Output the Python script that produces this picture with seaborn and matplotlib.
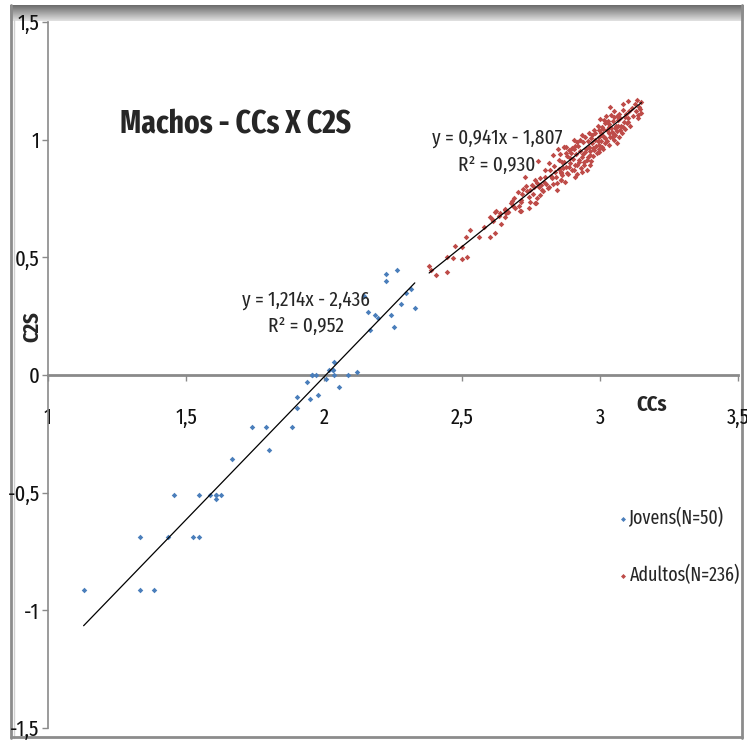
import numpy as np
import pandas as pd
import matplotlib
matplotlib.use("Agg")
import matplotlib.pyplot as plt
import seaborn as sns
from matplotlib import font_manager
from matplotlib.font_manager import FontProperties

# ---- data: Jovens (young) ----
jovens_ccs = [1.129, 1.334, 1.384, 1.334, 1.435, 1.525, 1.546, 1.456, 1.547, 1.587,
              1.607, 1.610, 1.626, 1.666, 1.738, 1.791, 1.801, 1.883, 1.902, 1.902,
              1.937, 1.948, 1.979, 2.056, 2.226, 2.226, 2.264, 2.145, 2.158, 2.184,
              2.197, 2.165, 2.241, 2.253, 2.279, 2.297, 2.317, 2.329, 2.035, 2.017,
              2.031, 1.957, 1.971, 2.009, 2.037, 2.088, 2.118, 1.957, 2.031, 1.607]
jovens_c2s = [-0.914, -0.914, -0.914, -0.690, -0.690, -0.690, -0.690, -0.511, -0.511, -0.511,
              -0.511, -0.526, -0.511, -0.357, -0.222, -0.222, -0.317, -0.222, -0.094, -0.139,
              -0.028, -0.103, -0.084, -0.052, 0.429, 0.400, 0.445, 0.336, 0.269, 0.255,
              0.241, 0.191, 0.255, 0.205, 0.300, 0.348, 0.364, 0.285, 0.055, 0.021,
              0.021, 0.000, 0.000, -0.018, 0.000, 0.000, 0.011, 0.000, 0.021, -0.511]

# ---- data: Adultos (adults) ----
adultos_ccs = [
    2.381, 2.388, 2.405, 2.445, 2.446, 2.468, 2.475, 2.500, 2.501, 2.513,
    2.519, 2.529, 2.600, 2.601, 2.607, 2.612, 2.619, 2.620, 2.634, 2.654,
    2.661, 2.667, 2.685, 2.712, 2.712, 2.744, 2.768,
    2.622, 2.636, 2.654, 2.666, 2.682, 2.692, 2.702, 2.711, 2.713, 2.721,
    2.730, 2.732, 2.742, 2.748, 2.760, 2.766, 2.766, 2.772, 2.776, 2.778,
    2.784, 2.790, 2.796, 2.802, 2.812, 2.814, 2.820, 2.826, 2.829, 2.838,
    2.844, 2.848, 2.850, 2.857, 2.860, 2.865, 2.868, 2.877, 2.880,
    3.037, 3.085, 3.103, 3.133, 3.146, 3.139, 3.041, 3.001, 3.013, 3.029,
    3.049, 3.061, 3.073, 3.091, 3.103, 3.097, 3.085, 3.067, 3.055, 3.043,
    3.031, 3.019, 3.007, 2.995, 2.983, 2.971, 2.959, 2.947, 2.935, 2.929,
    2.917, 2.905, 2.911, 2.898, 2.887, 2.875, 2.868, 2.893, 2.887, 2.905,
    2.917, 2.923, 2.935, 2.947, 2.959, 2.971, 2.983, 2.995, 3.007, 3.019,
    3.031, 3.043, 3.055, 3.073, 3.049, 3.019, 2.995, 2.977, 2.965, 2.953,
    2.941, 2.965, 2.935, 2.911, 2.863, 2.860, 2.857, 2.995, 3.007, 3.031,
    3.061,
    2.640, 2.655, 2.676, 2.690, 2.705, 2.718, 2.735, 2.745, 2.752, 2.758,
    2.770, 2.781, 2.788, 2.795, 2.800, 2.806, 2.817, 2.822, 2.831, 2.835,
    2.842, 2.846, 2.852, 2.855, 2.862, 2.870, 2.872, 2.878, 2.882, 2.885,
    2.890, 2.895, 2.897, 2.902, 2.906, 2.909, 2.913, 2.915, 2.920, 2.925,
    2.928, 2.931, 2.937, 2.940, 2.943, 2.950, 2.952, 2.955, 2.958, 2.962,
    2.967, 2.969, 2.973, 2.976, 2.980, 2.985, 2.988, 2.991, 2.993, 2.998,
    3.002, 3.004, 3.010, 3.012, 3.016, 3.022, 3.024, 3.027, 3.033, 3.036,
    3.040, 3.046, 3.048, 3.052, 3.058, 3.060, 3.064, 3.068, 3.070, 3.076,
    3.080, 3.083, 3.088, 3.092, 3.095, 3.100, 3.106, 3.110, 3.115, 3.120,
    3.125, 3.130, 3.136, 3.142, 3.148, 3.150, 2.560, 2.578,
]
adultos_c2s = [
    0.465, 0.446, 0.425, 0.439, 0.500, 0.497, 0.548, 0.493, 0.545, 0.588,
    0.503, 0.618, 0.588, 0.673, 0.663, 0.656, 0.602, 0.691, 0.677, 0.701,
    0.687, 0.691, 0.720, 0.737, 0.697, 0.708, 0.732,
    0.698, 0.687, 0.704, 0.694, 0.741, 0.708, 0.776, 0.697, 0.744, 0.790,
    0.843, 0.805, 0.758, 0.786, 0.800, 0.732, 0.829, 0.817, 0.911, 0.800,
    0.765, 0.786, 0.819, 0.843, 0.793, 0.900, 0.871, 0.836, 0.935, 0.864,
    0.815, 0.959, 0.914, 0.857, 0.829, 0.878, 0.968, 0.970, 0.857,
    1.138, 1.152, 1.166, 1.169, 1.129, 1.105, 1.105, 1.087, 1.084, 1.081,
    1.098, 1.101, 1.091, 1.098, 1.076, 1.070, 1.055, 1.058, 1.048, 1.034,
    1.055, 1.070, 1.055, 1.041, 1.027, 1.020, 1.027, 1.013, 1.020, 0.999,
    0.991, 0.999, 0.973, 0.963, 0.956, 0.942, 0.970, 0.921, 0.885, 0.871,
    0.892, 0.914, 0.928, 0.949, 0.970, 0.985, 0.999, 1.013, 1.020, 1.006,
    1.027, 1.013, 1.020, 1.041, 0.999, 0.985, 0.978, 0.956, 0.935, 0.914,
    0.892, 0.892, 0.864, 0.840, 0.906, 0.864, 0.829, 0.949, 0.970, 0.978,
    0.985,
    0.640, 0.672, 0.729, 0.752, 0.720, 0.768, 0.782, 0.736, 0.808, 0.770,
    0.752, 0.838, 0.806, 0.781, 0.870, 0.812, 0.797, 0.845, 0.811, 0.889,
    0.842, 0.785, 0.875, 0.940, 0.848, 0.905, 0.822, 0.883, 0.930, 0.852,
    0.900, 0.945, 0.869, 0.918, 0.960, 0.893, 0.940, 0.856, 0.975, 0.905,
    0.950, 0.880, 0.990, 0.940, 0.905, 0.960, 0.870, 0.995, 0.925, 0.950,
    1.005, 0.910, 0.965, 0.930, 1.040, 0.975, 0.942, 1.060, 0.995, 0.960,
    1.030, 0.995, 1.045, 0.960, 1.010, 1.100, 1.040, 0.995, 1.065, 1.010,
    1.050, 1.080, 1.030, 1.120, 1.060, 1.035, 1.085, 1.010, 1.110, 1.060,
    1.030, 1.125, 1.075, 1.045, 1.110, 1.090, 1.120, 1.060, 1.135, 1.100,
    1.150, 1.120, 1.090, 1.140, 1.160, 1.115, 0.585, 0.630,
]

# linear trend lines (slope, intercept, R²)
jovens_fit = (1.214, -2.436, 0.952)
adultos_fit = (0.941, -1.807, 0.930)

x_ticks = [1, 1.5, 2, 2.5, 3, 3.5]
x_tick_labels = ["1", "1,5", "2", "2,5", "3", "3,5"]
y_ticks = [-1.5, -1, -0.5, 0, 0.5, 1, 1.5]
y_tick_labels = ["-1,5", "-1", "-0,5", "0", "0,5", "1", "1,5"]

# ---- style ----
sns.set_style("white")
plt.rcParams["font.family"] = ["Liberation Sans", "DejaVu Sans"]


def narrow_font(bold=False):
    """Pick the narrowest installed sans-serif face (condensed widths first)."""
    want_w = 700 if bold else 400
    tiers = [("ExtraCondensed", "Extra Condensed", "extra-condensed"),
             ("Narrow", "Condensed", "condensed")]
    fonts = [f for f in font_manager.fontManager.ttflist
             if f.style == "normal" and "Semi" not in f.fname and "Ultra" not in f.fname]
    for keys in tiers:
        best = None
        for f in fonts:
            tag = f.name + " " + f.fname + " " + str(f.stretch)
            if keys[0] == "ExtraCondensed":
                ok = any(k in tag for k in keys)
            else:
                ok = (any(k in tag for k in keys)) and "Extra" not in tag
            if not ok:
                continue
            w = f.weight if isinstance(f.weight, int) else (700 if "bold" in str(f.weight) else 400)
            score = abs(w - want_w)
            if best is None or score < best[0]:
                best = (score, f.fname)
        if best is not None and best[0] <= 100:
            return FontProperties(fname=best[1]), keys[0]
    return FontProperties(family="Liberation Sans",
                          weight="bold" if bold else "normal"), None


FP_REG, TIER = narrow_font(False)
FP_BOLD, _ = narrow_font(True)
SCALE = {"ExtraCondensed": 1.0, "Narrow": 0.92, None: 0.78}[TIER]

BLUE = "#4A7EBB"
RED = "#BE4B48"
AXIS_GREY = "#8A8A8A"

W, H = 747, 740
fig = plt.figure(figsize=(W / 100, H / 100), dpi=100)


def fx(px):
    return px / W


def fy(py):
    return 1 - py / H


def fp(base, size):
    p = base.copy()
    p.set_size(size * SCALE)
    return p


# outer chart frame with a shaded top edge
frame = fig.add_axes([0, 0, 1, 1], zorder=-5)
frame.set_xlim(0, W)
frame.set_ylim(H, 0)
frame.axis("off")
grad = np.linspace(0.42, 0.88, 32).reshape(-1, 1)
frame.imshow(grad, cmap="gray", vmin=0, vmax=1, aspect="auto",
             extent=[10, 744, 21, 5], interpolation="bilinear")
frame.plot([11, 11], [5, 738], color="#8c8c8c", lw=2)
frame.plot([14, 14], [20, 738], color="#d0d0d0", lw=1)
frame.plot([742, 742], [5, 738], color="#8c8c8c", lw=2)
frame.plot([11, 742], [737, 737], color="#8c8c8c", lw=2)

# plot area
ax = fig.add_axes([fx(48), fy(728), (738 - 48) / W, (728 - 22) / H])
ax.set_facecolor("white")
for side in ("top", "right"):
    ax.spines[side].set_visible(False)
ax.spines["bottom"].set_position(("data", 0))
ax.spines["bottom"].set_color(AXIS_GREY)
ax.spines["bottom"].set_linewidth(2.0)
ax.spines["left"].set_color(AXIS_GREY)
ax.spines["left"].set_linewidth(1.2)

sns.scatterplot(x=jovens_ccs, y=jovens_c2s, ax=ax, color=BLUE, marker="D",
                s=8, linewidth=0, label="Jovens(N=50)", zorder=3)
sns.scatterplot(x=adultos_ccs, y=adultos_c2s, ax=ax, color=RED, marker="D",
                s=8, linewidth=0, label="Adultos(N=236)", zorder=3)

for xs, (m, b, _) in ((jovens_ccs, jovens_fit), (adultos_ccs, adultos_fit)):
    xl = np.array([min(xs), max(xs)])
    ax.plot(xl, m * xl + b, color="black", lw=0.9, zorder=4)

ax.set_xlim(1, 3.5)
ax.set_ylim(-1.5, 1.5)
ax.tick_params(axis="x", direction="out", length=4, width=1, color=AXIS_GREY,
               pad=19, bottom=True, labelcolor="#111111")
ax.tick_params(axis="y", direction="out", length=4, width=1, color=AXIS_GREY,
               pad=2, left=True, labelcolor="#111111")
ax.set_xticks(x_ticks)
ax.set_xticklabels(x_tick_labels, fontproperties=fp(FP_REG, 16))
ax.set_yticks(y_ticks)
ax.set_yticklabels(y_tick_labels, fontproperties=fp(FP_REG, 16))
ax.set_xlabel("")
ax.set_ylabel("")

# axis titles
fig.text(fx(652), fy(405), "CCs", ha="center", va="center",
         fontproperties=fp(FP_BOLD, 16))
fig.text(fx(32), fy(327), "C2S", ha="center", va="center",
         fontproperties=fp(FP_BOLD, 16), rotation=90)

# chart title
fig.text(fx(236), fy(124), "Machos - CCs X C2S", ha="center", va="center",
         fontproperties=fp(FP_BOLD, 23))


def eq_text(m, b):
    op = "-" if b < 0 else "+"
    return f"y = {m:.3f}x {op} {abs(b):.3f}".replace(".", ",")


def r2_text(r2):
    return f"R² = {r2:.3f}".replace(".", ",")


# trend-line equations
m, b, r2 = jovens_fit
fig.text(fx(306), fy(300), eq_text(m, b), ha="center", va="center",
         fontproperties=fp(FP_REG, 15))
fig.text(fx(306), fy(326), r2_text(r2), ha="center", va="center",
         fontproperties=fp(FP_REG, 15))
m, b, r2 = adultos_fit
fig.text(fx(497), fy(138), eq_text(m, b), ha="center", va="center",
         fontproperties=fp(FP_REG, 15))
fig.text(fx(497), fy(165), r2_text(r2), ha="center", va="center",
         fontproperties=fp(FP_REG, 15))

# legend
leg = ax.legend(loc="upper left", bbox_to_anchor=(fx(607), fy(498)),
                bbox_transform=fig.transFigure, frameon=False,
                prop=fp(FP_REG, 14), handletextpad=0.05, handlelength=0.6,
                labelspacing=1.9, markerscale=0.9, borderpad=0)

fig.savefig("out.png", dpi=100)
